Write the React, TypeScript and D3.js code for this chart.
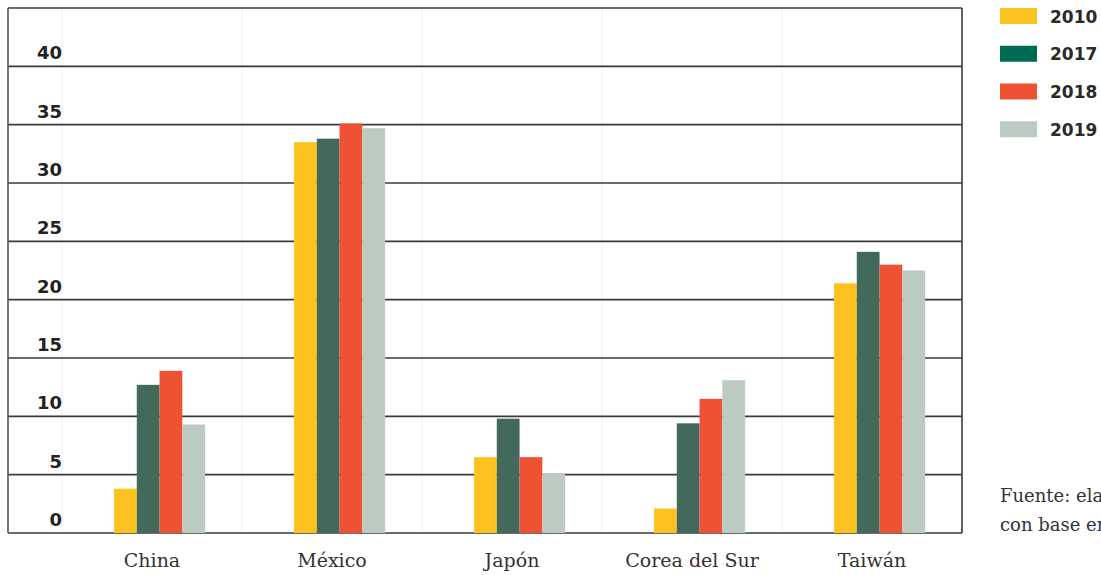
import React from "react";
import * as d3 from "d3";

const categories = ["China", "México", "Japón", "Corea del Sur", "Taiwán"];
const seriesNames = ["2010", "2017", "2018", "2019"];
const v2010 = [3.8, 33.5, 6.5, 2.1, 21.4];
const v2017 = [12.7, 33.8, 9.8, 9.4, 24.1];
const v2018 = [13.9, 35.1, 6.5, 11.5, 23.0];
const v2019 = [9.3, 34.7, 5.1, 13.1, 22.5];
const yTicks = [0, 5, 10, 15, 20, 25, 30, 35, 40];
const barColors = ["#FDC220", "#42695C", "#EE5232", "#BCCBC2"];
const legendColors = ["#FDC220", "#006B54", "#EE5232", "#BCCBC2"];
const sourceLines = ["Fuente: elaboración propia", "con base en datos de la OMC."];

const W = 1101;
const H = 575;
const frameLeft = 8;
const plotLeft = 62;
const plotRight = 962;
const plotTop = 8;
const plotBottom = 533;

export default function App() {
  const series = [v2010, v2017, v2018, v2019];
  const y = d3.scaleLinear().domain([0, 45]).range([plotBottom, plotTop]);
  const x0 = d3.scaleBand<string>().domain(categories).range([plotLeft, plotRight]).padding(0);
  const bw = x0.bandwidth();
  const x1 = d3
    .scaleBand<string>()
    .domain(seriesNames)
    .range([bw * 0.289, bw * 0.795])
    .padding(0);
  const legendY = d3.scaleBand<string>().domain(seriesNames).range([0, 151]);

  return (
    <svg
      width={W}
      height={H}
      style={{ position: "absolute", left: 0, top: 0, display: "block", background: "#fff" }}
    >
      {/* faint vertical band separators */}
      {categories.map((c) => (
        <line
          key={"v" + c}
          x1={x0(c)!}
          x2={x0(c)!}
          y1={plotTop}
          y2={plotBottom}
          stroke="#f0f0f0"
          strokeWidth={1}
        />
      ))}
      {/* horizontal gridlines */}
      {yTicks.map((t) => (
        <line
          key={"g" + t}
          x1={frameLeft}
          x2={plotRight}
          y1={y(t)}
          y2={y(t)}
          stroke="#3a3a3a"
          strokeWidth={1.6}
        />
      ))}
      {/* frame */}
      <line x1={frameLeft} x2={plotRight} y1={plotTop} y2={plotTop} stroke="#3a3a3a" strokeWidth={1.6} />
      <line x1={frameLeft} x2={frameLeft} y1={plotTop} y2={plotBottom} stroke="#555" strokeWidth={1.6} />
      <line x1={plotRight} x2={plotRight} y1={plotTop} y2={plotBottom} stroke="#3a3a3a" strokeWidth={1.6} />
      {/* y tick labels */}
      {yTicks.map((t) => (
        <text
          key={"t" + t}
          x={plotLeft}
          y={y(t) - 7}
          textAnchor="end"
          fontFamily="'DejaVu Sans', sans-serif"
          fontWeight="bold"
          fontSize={18}
          fill="#222"
        >
          {t}
        </text>
      ))}
      {/* bars */}
      {categories.map((c, i) => (
        <g key={"b" + c} transform={`translate(${x0(c)},0)`}>
          {seriesNames.map((s, j) => (
            <rect
              key={s}
              x={x1(s)!}
              y={y(series[j][i])}
              width={x1.bandwidth()}
              height={y(0) - y(series[j][i])}
              fill={barColors[j]}
            />
          ))}
        </g>
      ))}
      {/* category labels */}
      {categories.map((c) => (
        <text
          key={"c" + c}
          x={x0(c)! + bw / 2}
          y={567}
          textAnchor="middle"
          fontFamily="'DejaVu Serif', serif"
          fontSize={19}
          fill="#333"
        >
          {c}
        </text>
      ))}
      {/* legend */}
      {seriesNames.map((s, j) => (
        <g key={"l" + s} transform={`translate(1000,${8 + legendY(s)!})`}>
          <rect x={0} y={0} width={37} height={16} fill={legendColors[j]} />
          <text
            x={50}
            y={14.5}
            fontFamily="'DejaVu Sans', sans-serif"
            fontWeight="bold"
            fontSize={17}
            fill="#2a2a2a"
          >
            {s}
          </text>
        </g>
      ))}
      {/* source */}
      {sourceLines.map((l, i) => (
        <text
          key={"s" + i}
          x={1000}
          y={502 + i * 29}
          fontFamily="'DejaVu Serif', serif"
          fontSize={18}
          fill="#333"
        >
          {l}
        </text>
      ))}
    </svg>
  );
}
